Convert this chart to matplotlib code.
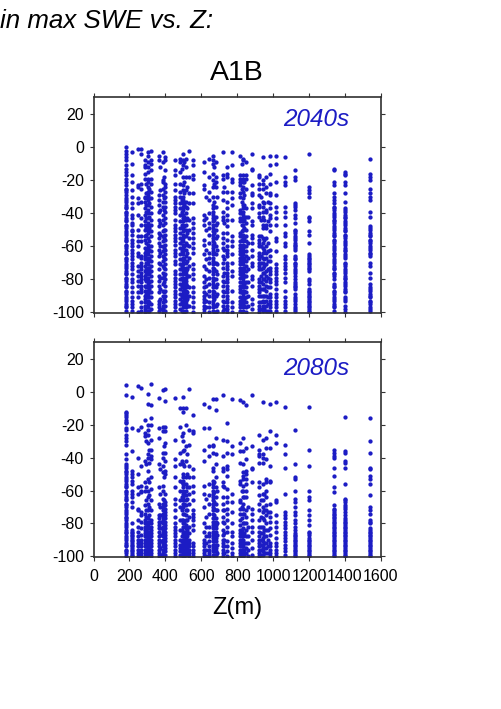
import matplotlib
matplotlib.use('Agg')
import matplotlib.pyplot as plt

plt.rcParams['font.family'] = ['Liberation Sans', 'DejaVu Sans']
plt.rcParams['axes.unicode_minus'] = False

# station elevations, one column of dots each
z_cols = [179, 216, 245, 265, 287, 302, 320, 364, 385, 400, 452, 480, 497, 512, 530, 555,
          615, 640, 665, 680, 718, 743, 770, 818, 832, 851, 881, 921, 943, 962, 985, 1014,
          1068, 1119, 1201, 1336, 1397, 1537,
          293, 311, 372, 392, 490, 505, 522, 625, 672, 688, 725, 825, 840, 858, 930, 950, 970,
          179, 216, 1119, 1201, 1336, 1397, 1537]

# percent change for each column
y_2040 = [
    [0, -2, -4, -6, -8, -11, -13, -15, -17, -19, -21, -23, -25, -26, -27, -29, -31, -33, -35, -37, -39, -41, -43, -45, -47, -49, -51, -53, -55, -57, -59, -61, -63, -65, -67, -69, -71, -73, -75, -77, -79, -81, -83, -85, -87, -89, -91, -93, -95, -97, -99],
    [-3, -10, -17, -21, -26, -30, -34, -37, -41, -43, -47, -51, -53, -56, -60, -64, -66, -70, -74, -77, -80, -85, -91, -93, -95, -97, -99],
    [-1, -23, -24, -31, -34, -41, -50, -54, -57, -60, -64, -66, -72, -75, -78, -81, -84, -88, -91, -100],
    [-1, -4, -22, -25, -33, -43, -47, -54, -57, -66, -67, -70, -72, -74, -76, -78, -80, -82, -84, -86, -88, -94, -97, -99],
    [-8, -11, -12, -16, -19, -30, -31, -33, -37, -41, -45, -47, -50, -54, -56, -61, -64, -66, -68, -72, -75, -78, -80, -84, -87, -90, -92, -94, -96, -98, -100],
    [-3, -5, -9, -12, -15, -19, -21, -24, -27, -29, -30, -32, -35, -38, -40, -43, -46, -48, -50, -52, -55, -59, -61, -63, -65, -67, -69, -71, -73, -75, -77, -79, -81, -83, -85, -87, -89, -91, -93, -95, -97, -99],
    [-2, -8, -10, -14, -19, -22, -27, -31, -36, -40, -44, -47, -51, -54, -60, -63, -66, -69, -72, -75, -78, -81, -84, -88, -91, -95, -98],
    [-5, -8, -29, -32, -35, -39, -44, -48, -52, -55, -58, -62, -66, -70, -74, -78, -81, -84, -88, -93, -95, -97, -99],
    [-3, -9, -20, -21, -25, -29, -33, -36, -41, -44, -47, -51, -54, -57, -60, -63, -66, -69, -72, -76, -79, -83, -87, -90, -94, -96, -98, -100],
    [-6, -8, -14, -22, -24, -27, -30, -33, -36, -39, -43, -46, -50, -53, -56, -59, -62, -65, -68, -71, -74, -77, -80, -84, -87, -90, -93, -96, -99],
    [-8, -14, -17, -22, -26, -30, -32, -34, -36, -38, -40, -44, -47, -49, -51, -53, -55, -57, -59, -62, -64, -66, -69, -71, -75, -77, -79, -81, -83, -85, -87, -89, -91, -93, -95, -97, -99],
    [-7, -9, -15, -22, -27, -30, -34, -37, -41, -45, -49, -52, -55, -58, -61, -65, -68, -71, -74, -77, -80, -83, -86, -89, -92, -95, -98],
    [-4, -8, -11, -18, -23, -26, -30, -32, -34, -36, -38, -41, -43, -45, -47, -49, -51, -53, -55, -57, -59, -61, -63, -65, -67, -69, -71, -73, -75, -77, -79, -81, -83, -85, -87, -89, -91, -93, -95, -97, -99],
    [-7, -12, -18, -26, -33, -36, -40, -44, -47, -50, -54, -58, -62, -66, -70, -73, -75, -77, -79, -81, -83, -85, -87, -89, -91, -93, -95, -97, -99],
    [-2, -18, -28, -34, -44, -50, -55, -60, -67, -72, -78, -85, -90, -96],
    [-8, -11, -17, -19, -28, -34, -43, -46, -49, -52, -55, -58, -61, -64, -71, -74, -77, -80, -85, -88, -91, -94, -97, -100],
    [-9, -15, -23, -25, -41, -44, -47, -56, -59, -65, -72, -78, -82, -85, -88, -90, -92, -94, -96, -98, -100],
    [-7, -18, -27, -32, -40, -46, -49, -53, -58, -64, -67, -70, -75, -79, -83, -87, -90, -94, -97, -100],
    [-5, -8, -10, -16, -20, -24, -30, -35, -37, -39, -41, -43, -45, -47, -49, -51, -53, -55, -57, -59, -61, -63, -65, -67, -69, -71, -73, -75, -77, -79, -81, -83, -85, -87, -89, -91, -93, -95, -97, -99],
    [-9, -18, -21, -24, -36, -42, -47, -50, -55, -60, -65, -70, -75, -80, -85, -90, -96, -100],
    [-3, -17, -19, -27, -32, -39, -42, -44, -52, -55, -58, -61, -66, -70, -73, -78, -81, -84, -87, -90, -93, -96, -99],
    [-12, -16, -18, -27, -33, -37, -41, -44, -48, -52, -56, -60, -62, -64, -66, -70, -72, -74, -76, -78, -80, -82, -84, -86, -88, -90, -92, -94, -96, -98, -100],
    [-3, -11, -19, -21, -27, -31, -35, -44, -54, -57, -60, -65, -70, -75, -78, -87, -94, -97, -100],
    [-5, -17, -19, -21, -23, -28, -30, -38, -40, -43, -45, -52, -54, -57, -59, -61, -63, -65, -67, -69, -71, -73, -75, -77, -79, -82, -84, -86, -88, -91, -93, -95, -97, -99],
    [-7, -8, -17, -19, -21, -24, -27, -31, -35, -37, -39, -41, -43, -45, -47, -50, -53, -55, -57, -59, -61, -63, -65, -67, -69, -71, -73, -75, -77, -79, -81, -83, -85, -87, -89, -91, -93, -95, -97, -99],
    [-9, -17, -19, -25, -37, -42, -46, -50, -54, -57, -60, -63, -66, -69, -72, -75, -78, -82, -85, -88, -91, -94, -97, -100],
    [-4, -13, -14, -23, -28, -29, -34, -37, -45, -47, -53, -55, -58, -62, -66, -70, -72, -78, -80, -84, -92, -95, -98],
    [-17, -18, -22, -25, -29, -35, -36, -40, -42, -54, -56, -58, -60, -64, -66, -68, -70, -72, -74, -80, -82, -84, -86, -88, -90, -94, -96, -98, -100],
    [-6, -20, -22, -25, -33, -36, -39, -42, -47, -49, -55, -58, -61, -64, -67, -70, -73, -76, -80, -83, -86, -90, -93, -96, -99],
    [-18, -24, -28, -38, -39, -47, -49, -55, -60, -64, -67, -71, -75, -78, -81, -84, -87, -90, -93, -96, -99],
    [-5, -11, -16, -22, -28, -29, -34, -37, -41, -43, -47, -51, -62, -66, -69, -73, -75, -77, -80, -82, -85, -89, -91, -93, -95, -97, -99],
    [-5, -10, -21, -29, -36, -39, -43, -47, -55, -57, -63, -71, -73, -75, -77, -79, -81, -83, -86, -89, -91, -93, -95, -97, -99],
    [-6, -18, -21, -23, -36, -39, -42, -47, -52, -54, -58, -60, -66, -68, -70, -72, -74, -76, -79, -82, -87, -91, -93, -95, -97, -99],
    [-14, -18, -20, -34, -35, -36, -38, -41, -43, -46, -50, -52, -54, -56, -58, -60, -62, -66, -68, -70, -72, -74, -76, -78, -80, -82, -84, -86, -89, -91, -93, -95, -97, -99],
    [-4, -24, -26, -28, -30, -42, -43, -45, -51, -53, -58, -65, -67, -69, -71, -73, -75, -80, -81, -83, -86, -88, -90, -92, -94, -96, -98, -100],
    [-13, -14, -21, -23, -28, -30, -32, -34, -36, -38, -40, -42, -44, -46, -48, -50, -52, -54, -56, -58, -60, -62, -64, -66, -68, -70, -72, -74, -76, -78, -80, -83, -85, -87, -89, -91, -93, -95, -97, -99],
    [-15, -16, -17, -21, -23, -28, -33, -37, -39, -41, -43, -45, -47, -49, -51, -53, -55, -57, -59, -61, -63, -65, -67, -70, -72, -74, -76, -78, -80, -82, -84, -86, -88, -91, -93, -96, -100],
    [-7, -16, -18, -20, -25, -28, -30, -32, -39, -42, -48, -50, -52, -54, -56, -58, -60, -62, -64, -66, -70, -72, -76, -79, -83, -85, -87, -89, -91, -93, -95, -97, -99],
    # extra columns inside the dense bands
    [-22, -28, -35, -39, -43, -49, -53, -58, -63, -67, -70, -74, -77, -81, -85, -89, -93, -97],
    [-25, -34, -42, -49, -57, -62, -68, -73, -76, -82, -86, -91, -94, -99],
    [-12, -26, -38, -46, -53, -60, -64, -71, -79, -86, -92, -98],
    [-18, -31, -38, -50, -55, -61, -67, -73, -78, -82, -88, -92, -96],
    [-13, -32, -39, -47, -57, -63, -72, -79, -84, -90, -94, -99],
    [-9, -21, -28, -35, -42, -48, -54, -60, -68, -74, -80, -86, -92, -96, -100],
    [-24, -37, -43, -52, -59, -64, -69, -74, -78, -84, -88, -92, -96],
    [-30, -43, -50, -62, -68, -74, -80, -84, -89, -93, -97],
    [-12, -22, -33, -44, -52, -58, -64, -70, -74, -80, -84, -88, -92, -96, -100],
    [-30, -46, -54, -62, -71, -77, -83, -89, -95, -99],
    [-24, -46, -62, -68, -76, -82, -88, -94, -98],
    [-10, -25, -33, -47, -51, -56, -62, -66, -70, -74, -78, -84, -88, -92, -96, -100],
    [-21, -29, -35, -44, -49, -55, -60, -68, -73, -78, -83, -87, -92, -96],
    [-42, -58, -67, -74, -82, -90, -96],
    [-30, -44, -54, -60, -66, -70, -74, -78, -82, -86, -90, -94, -98],
    [-34, -44, -56, -62, -68, -72, -76, -80, -86, -90, -94, -98],
    [-33, -45, -58, -63, -69, -74, -79, -85, -91, -95, -99],
    # second pass over the most solid columns
    [-32, -36, -40, -44, -48, -52, -56, -60, -64, -68, -72, -76, -80, -84, -88, -92, -96],
    [-46, -50, -58, -62, -68, -72, -82, -88],
    [-51, -55, -59, -61, -67, -71, -75, -83, -85, -92, -98],
    [-66, -68, -70, -72, -74, -87, -89, -91, -93, -95, -97, -99],
    [-37, -41, -45, -49, -53, -57, -61, -65, -69, -73, -77, -84, -88, -92, -96],
    [-38, -42, -46, -50, -54, -58, -62, -66, -71, -75, -79, -83, -87, -92, -98],
    [-49, -53, -57, -61, -65, -86, -90, -94, -98],
]

y_2080 = [
    [4.5, -2, -12, -13, -14, -15, -17, -18, -19, -22, -23, -26, -28, -30, -32, -38, -41, -44, -46, -48, -50, -52, -54, -56, -58, -60, -62, -64, -66, -68, -70, -72, -74, -76, -78, -80, -82, -84, -86, -88, -90, -92, -94, -96, -98, -100],
    [-3, -22, -36, -48, -50, -52, -54, -56, -60, -62, -64, -67, -70, -80, -84, -86, -88, -90, -92, -94, -96, -98, -100],
    [3.5, -23, -40, -50, -58, -62, -71, -72, -78, -82, -85, -88, -90, -92, -94, -96, -98, -100],
    [2.5, -21, -45, -57, -60, -61, -73, -75, -79, -83, -87, -90, -92, -94, -96, -98, -100],
    [-17, -25, -27, -42, -55, -60, -69, -74, -78, -80, -82, -84, -86, -88, -90, -92, -94, -96, -98, -100],
    [-1, -7.5, -20, -23, -26, -31, -38, -40, -48, -53, -60, -64, -68, -72, -77, -79, -81, -83, -85, -87, -89, -91, -93, -95, -97, -99],
    [5, -8, -16, -20, -29, -35, -39, -41, -52, -59, -66, -72, -78, -80, -82, -84, -86, -88, -90, -92, -94, -96, -98, -100],
    [-3.5, -22, -28, -44, -58, -68, -75, -77, -79, -81, -83, -85, -88, -90, -92, -94, -96, -98, -100],
    [1, -21, -24, -37, -40, -45, -49, -57, -60, -65, -68, -70, -72, -74, -76, -78, -80, -82, -84, -86, -88, -90, -92, -94, -96, -98, -100],
    [2, -5.5, -21, -24, -31, -37, -42, -48, -50, -62, -67, -69, -71, -73, -75, -77, -79, -81, -83, -85, -87, -89, -91, -93, -95, -97, -99],
    [-3.5, -29, -41, -45, -52, -58, -65, -68, -72, -76, -80, -82, -84, -86, -88, -90, -92, -94, -96, -98, -100],
    [-10, -21, -37, -44, -54, -60, -66, -70, -78, -84, -90, -93, -95, -97, -99],
    [-3, -10, -12, -25, -30, -36, -44, -50, -52, -54, -56, -58, -60, -62, -64, -66, -68, -70, -74, -78, -80, -82, -86, -88, -90, -92, -94, -96, -98, -100],
    [-10, -20, -33, -42, -52, -56, -60, -63, -66, -69, -72, -75, -78, -81, -83, -85, -87, -89, -91, -93, -95, -97, -99],
    [2, -23, -32, -45, -52, -58, -62, -68, -76, -82, -86, -90, -92, -94, -96, -98, -100],
    [-14, -24, -25, -47, -52, -57, -61, -66, -72, -74, -76, -78, -81, -84, -92, -94, -96, -98, -100],
    [-7, -22, -35, -42, -57, -62, -70, -80, -85, -90, -92, -94, -96, -98, -100],
    [-9, -22, -33, -39, -56, -63, -68, -74, -82, -86, -88, -91, -94, -96, -98, -100],
    [-4, -32, -33, -37, -46, -48, -54, -56, -58, -60, -62, -64, -66, -68, -70, -72, -74, -77, -79, -81, -83, -85, -87, -89, -91, -93, -95, -97, -99],
    [-4, -11, -28, -38, -44, -52, -58, -64, -68, -72, -77, -79, -81, -83, -85, -87, -89, -91, -93, -95, -97, -99],
    [-2, -29, -39, -46, -48, -55, -57, -64, -68, -72, -76, -79, -84, -87, -90, -92, -94, -96, -98, -100],
    [-19, -30, -37, -45, -47, -51, -59, -64, -67, -71, -74, -78, -82, -85, -91, -94, -97, -100],
    [-4, -33, -38, -62, -67, -73, -80, -85, -88, -92, -95, -98, -100],
    [-5, -31, -36, -43, -54, -56, -66, -67, -71, -74, -78, -81, -84, -86, -88, -90, -92, -94, -96, -98, -100],
    [-6, -28, -36, -44, -49, -51, -53, -57, -60, -64, -68, -71, -74, -80, -83, -86, -88, -90, -92, -94, -96, -98, -100],
    [-8, -34, -41, -48, -50, -53, -56, -60, -64, -72, -76, -80, -84, -88, -92, -95, -98],
    [-2, -33, -46, -47, -55, -71, -74, -78, -82, -85, -90, -95, -99],
    [-26, -35, -38, -39, -43, -55, -58, -63, -68, -72, -78, -82, -85, -88, -90, -92, -94, -96, -98, -100],
    [-6, -29, -38, -40, -43, -56, -62, -66, -70, -73, -77, -82, -86, -89, -91, -93, -95, -97, -99],
    [-28, -34, -41, -53, -55, -60, -64, -69, -72, -75, -80, -84, -88, -92, -95, -98],
    [-7, -24, -34, -45, -54, -55, -68, -73, -76, -79, -83, -87, -92, -94, -96, -98, -100],
    [-6, -26, -31, -66, -67, -75, -79, -82, -85, -89, -92, -94, -96, -98, -100],
    [-9, -32, -38, -46, -62, -73, -75, -77, -79, -81, -83, -85, -87, -89, -91, -93, -95, -97, -99],
    [-23, -44, -52, -53, -60, -65, -67, -70, -73, -75, -78, -80, -82, -84, -87, -89, -91, -93, -95, -97, -99],
    [-9, -35, -45, -60, -64, -66, -72, -75, -78, -81, -87, -89, -91, -92, -94, -96, -98, -100],
    [-35, -37, -39, -40, -46, -51, -58, -61, -69, -72, -74, -76, -78, -80, -82, -84, -86, -88, -90, -92, -94, -96, -98, -100],
    [-15, -36, -37, -42, -43, -46, -56, -65, -67, -69, -71, -77, -79, -81, -83, -85, -87, -89, -91, -93, -95, -97, -99],
    [-16, -30, -37, -46, -47, -51, -53, -56, -63, -70, -72, -74, -78, -80, -84, -86, -88, -90, -92, -94, -96, -98, -100],
    # extra columns inside the dense bands
    [-30, -44, -58, -66, -72, -76, -80, -82, -84, -86, -88, -90, -92, -94, -96, -98, -100],
    [-35, -43, -55, -63, -70, -75, -79, -83, -86, -89, -92, -95, -98],
    [-47, -62, -70, -75, -79, -83, -87, -91, -95, -99],
    [-33, -52, -66, -72, -76, -80, -84, -88, -92, -96, -100],
    [-27, -42, -55, -64, -72, -78, -84, -88, -91, -93, -95, -97, -99],
    [-35, -45, -56, -62, -68, -74, -80, -85, -88, -90, -92, -94, -96, -98, -100],
    [-38, -50, -58, -65, -72, -78, -84, -88, -92, -95, -98],
    [-65, -76, -82, -88, -92, -96, -100],
    [-55, -61, -67, -71, -75, -79, -83, -87, -89, -91, -93, -95, -97, -99],
    [-60, -72, -80, -87, -93, -98],
    [-58, -72, -80, -86, -90, -94, -98],
    [-60, -70, -77, -84, -88, -90, -92, -94, -96, -98, -100],
    [-64, -74, -80, -86, -92, -96, -99],
    [-70, -82, -88, -92, -96, -100],
    [-66, -76, -82, -86, -90, -93, -96, -99],
    [-62, -72, -78, -84, -88, -92, -95, -98],
    [-73, -84, -90, -94, -98],
    # second pass over the most solid columns
    [-45, -49, -53, -57, -61, -65, -69, -73, -77, -81, -85, -89, -93, -97],
    [-85, -87, -89, -91, -93, -95, -97, -99],
    [-86, -88, -90, -92, -94, -96, -98, -100],
    [-85, -86, -90, -93, -95, -97, -99],
    [-71, -73, -75, -77, -79, -81, -83, -85, -87, -89, -91, -93, -95, -97, -99],
    [-66, -70, -73, -75, -78, -80, -82, -84, -86, -88, -90, -92, -94, -96, -98, -100],
    [-79, -83, -85, -87, -89, -91, -93, -95, -97, -99],
]

panel_labels = ['2040s', '2080s']
panel_data = [y_2040, y_2080]
y_ticks = [-100, -80, -60, -40, -20, 0, 20]
x_ticks = [0, 200, 400, 600, 800, 1000, 1200, 1400, 1600]

W, H = 501.0, 709.0
blue = '#1c1cc4'

fig = plt.figure(figsize=(W / 100, H / 100), dpi=100)

boxes = [(93.5, 97, 381, 313), (93.5, 342, 381, 557)]
label_y = [0.895, 0.875]
for i, (x0, y0, x1, y1) in enumerate(boxes):
    ax = fig.add_axes([x0 / W, 1 - y1 / H, (x1 - x0) / W, (y1 - y0) / H])
    for z, ys in zip(z_cols, panel_data[i]):
        ax.scatter([z] * len(ys), ys, s=9.5, color=blue, linewidths=0, zorder=2)
    ax.set_xlim(0, 1600)
    ax.set_ylim(-100.5, 30.5)
    ax.set_xticks(x_ticks)
    ax.set_yticks(y_ticks)
    ax.tick_params(top=True, right=True, length=3, width=0.8, color='#333333',
                   labelsize=11.5, labelbottom=(i == 1))
    ax.tick_params(axis='y', pad=4)
    ax.tick_params(axis='x', pad=5.5)
    for s in ax.spines.values():
        s.set_linewidth(1.2)
        s.set_color('#303030')
    ax.text(0.89, label_y[i], panel_labels[i], transform=ax.transAxes,
            ha='right', va='center', fontsize=17.5, style='italic', color=blue)

fig.text(237 / W, 1 - 73.5 / H, 'A1B', ha='center', va='center', fontsize=20.5)
fig.text(237 / W, 1 - 608 / H, 'Z(m)', ha='center', va='center', fontsize=17)
fig.text(0, 1 - 21 / H, 'in max SWE vs. Z:', ha='left', va='center', fontsize=18.6, style='italic')

fig.savefig('out.png', dpi=100)
plt.close(fig)
